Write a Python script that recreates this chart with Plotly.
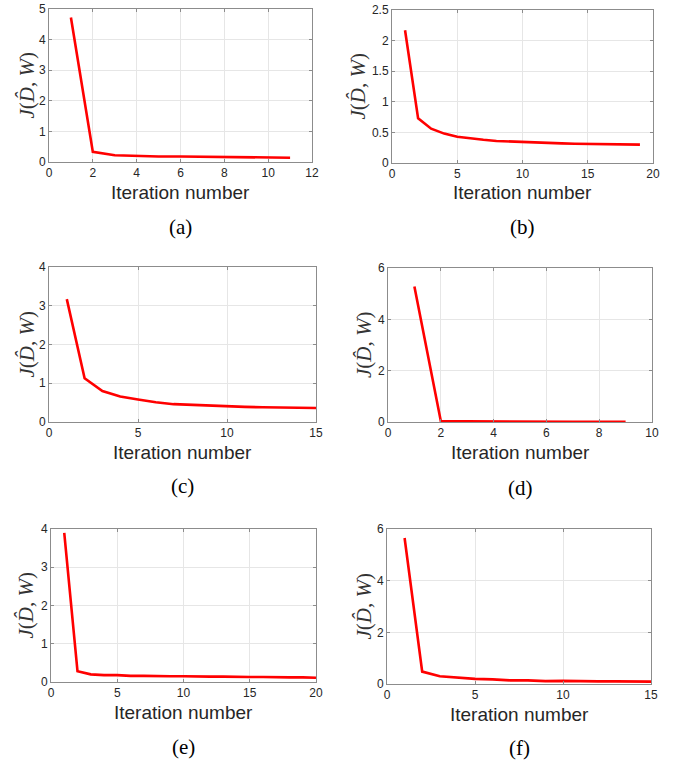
import plotly.graph_objects as go

W, H = 683, 762

iters_a = list(range(1, 12))
vals_a = [4.72, 0.33, 0.22, 0.19, 0.18, 0.18, 0.17, 0.16, 0.15, 0.14, 0.14]

iters_b = list(range(1, 20))
vals_b = [2.17, 0.73, 0.56, 0.48, 0.43, 0.40, 0.38, 0.36, 0.35, 0.34, 0.335,
          0.33, 0.32, 0.315, 0.31, 0.31, 0.305, 0.30, 0.30]

iters_c = list(range(1, 16))
vals_c = [3.17, 1.13, 0.80, 0.66, 0.58, 0.51, 0.46, 0.44, 0.42, 0.40, 0.39,
          0.38, 0.37, 0.365, 0.36]

iters_d = list(range(1, 10))
vals_d = [5.28, 0.04, 0.03, 0.02, 0.02, 0.01, 0.01, 0.01, 0.01]

iters_e = list(range(1, 21))
vals_e = [3.90, 0.28, 0.20, 0.18, 0.18, 0.16, 0.16, 0.15, 0.15, 0.15, 0.14,
          0.14, 0.14, 0.13, 0.13, 0.13, 0.12, 0.12, 0.12, 0.11]

iters_f = list(range(1, 16))
vals_f = [5.65, 0.48, 0.30, 0.25, 0.20, 0.18, 0.14, 0.14, 0.11, 0.12, 0.10,
          0.10, 0.10, 0.09, 0.09]

panel_labels = ["(a)", "(b)", "(c)", "(d)", "(e)", "(f)"]
x_ranges = [[0, 12], [0, 20], [0, 15], [0, 10], [0, 20], [0, 15]]
x_dticks = [2, 5, 5, 2, 5, 5]
y_ranges = [[0, 5], [0, 2.5], [0, 4], [0, 6], [0, 4], [0, 6]]
y_dticks = [1, 0.5, 1, 2, 1, 2]

series = [(iters_a, vals_a), (iters_b, vals_b), (iters_c, vals_c),
          (iters_d, vals_d), (iters_e, vals_e), (iters_f, vals_f)]

# plot-area pixel boxes: left, right, top, bottom
boxes = [(49, 312, 9, 162), (392, 653, 10, 163),
         (49, 316, 267, 422), (388, 652, 268, 422),
         (51, 316, 529, 682), (387, 651, 529, 684)]
label_y = [227, 227, 486, 488, 747, 748]
ylab_off = [23, 34, 23, 24, 26, 24]

fig = go.Figure()
annotations = []
tick_font = dict(family="Liberation Sans, Arial, sans-serif", size=12, color="#262626")
for i, ((xs, ys), (l, r, t, b)) in enumerate(zip(series, boxes)):
    n = i + 1
    xa = "x" if n == 1 else f"x{n}"
    ya = "y" if n == 1 else f"y{n}"
    fig.add_trace(go.Scatter(x=xs, y=ys, mode="lines", xaxis=xa, yaxis=ya,
                             line=dict(color="#ff0000", width=2.6),
                             showlegend=False))
    axis_common = dict(showgrid=True, gridcolor="#e6e6e6", gridwidth=1,
                       showline=True, linecolor="#8c8c8c", linewidth=1,
                       mirror="ticks", ticks="inside", ticklen=3,
                       tickcolor="#8c8c8c", zeroline=False, automargin=False,
                       tickfont=tick_font)
    fig.update_layout(**{
        ("xaxis" if n == 1 else f"xaxis{n}"): dict(
            domain=[l / W, r / W], anchor=ya, range=x_ranges[i],
            dtick=x_dticks[i], tick0=0, **axis_common),
        ("yaxis" if n == 1 else f"yaxis{n}"): dict(
            domain=[1 - b / H, 1 - t / H], anchor=xa, range=y_ranges[i],
            dtick=y_dticks[i], tick0=0, **axis_common),
    })
    # x-axis title
    annotations.append(dict(text="Iteration number", xref="paper", yref="paper",
                            x=(l + r) / 2 / W, y=1 - (b + 30) / H,
                            showarrow=False, xanchor="center", yanchor="middle",
                            font=dict(family="Liberation Sans, Arial, sans-serif",
                                      size=19, color="#262626")))
    # y-axis title
    annotations.append(dict(text="<i>J</i>(<i>D̂</i>, <i>W</i>)", xref="paper", yref="paper",
                            x=(l - ylab_off[i]) / W, y=1 - (t + b) / 2 / H,
                            textangle=-90, showarrow=False,
                            xanchor="center", yanchor="middle",
                            font=dict(family="Liberation Serif, Times New Roman, serif",
                                      size=21, color="#333333")))
    # panel label
    annotations.append(dict(text=panel_labels[i], xref="paper", yref="paper",
                            x=(l + r) / 2 / W, y=1 - label_y[i] / H,
                            showarrow=False, xanchor="center", yanchor="middle",
                            font=dict(family="Liberation Serif, Times New Roman, serif",
                                      size=21, color="#000000")))

fig.update_layout(width=W, height=H, margin=dict(l=0, r=0, t=0, b=0),
                  plot_bgcolor="white", paper_bgcolor="white",
                  annotations=annotations)
fig.write_html("out.html", config={"displayModeBar": False},
               post_script="document.body.style.margin='0px';document.body.style.overflow='hidden';")
